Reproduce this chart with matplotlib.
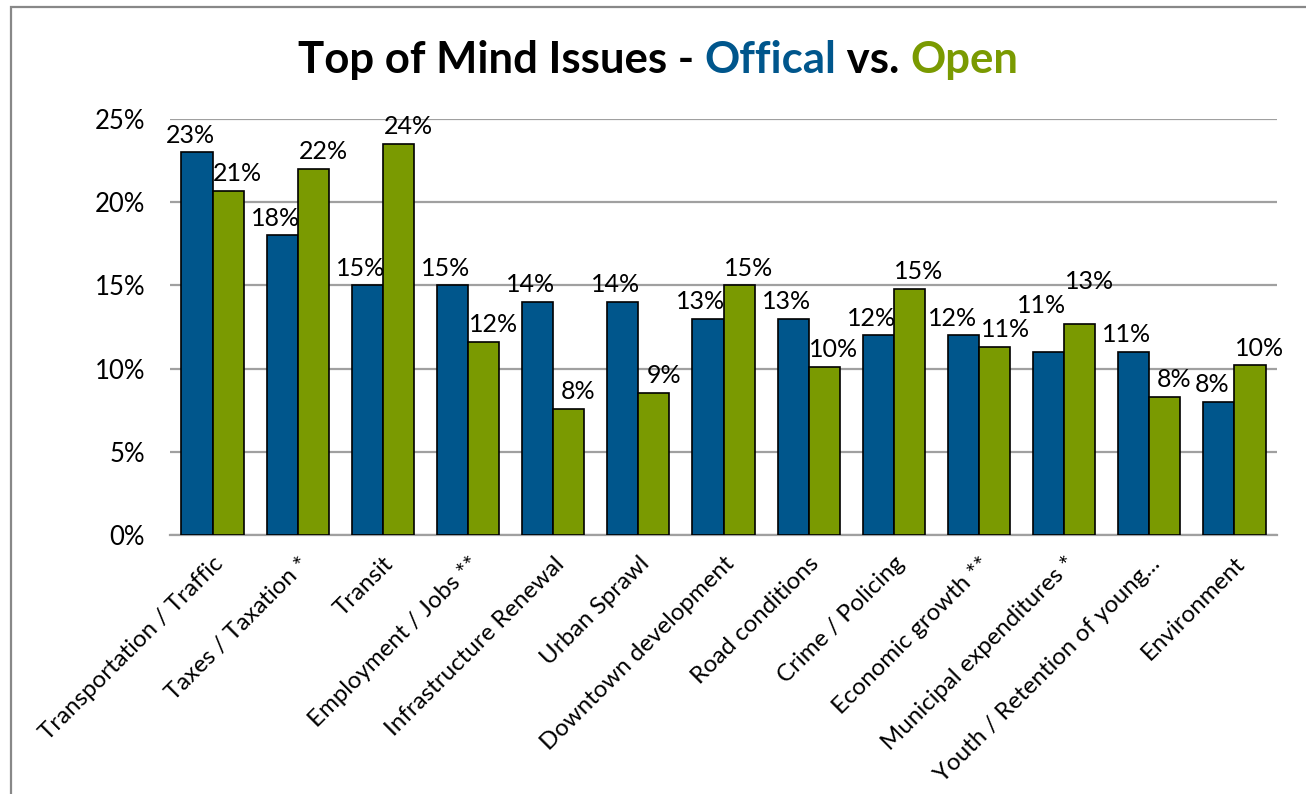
import numpy as np
import matplotlib
matplotlib.use("Agg")
import matplotlib.pyplot as plt
from matplotlib.patches import Rectangle

plt.rcParams['font.family'] = ['Lato', 'DejaVu Sans']

# data
categories = ['Transportation / Traffic', 'Taxes / Taxation *', 'Transit',
              'Employment / Jobs **', 'Infrastructure Renewal', 'Urban Sprawl',
              'Downtown development', 'Road conditions', 'Crime / Policing',
              'Economic growth **', 'Municipal expenditures *',
              'Youth / Retention of young...', 'Environment']
official = [23.0, 18.0, 15.0, 15.0, 14.0, 14.0, 13.0, 13.0, 12.0, 12.0, 11.0, 11.0, 8.0]
open_ = [20.7, 22.0, 23.5, 11.6, 7.6, 8.55, 15.0, 10.1, 14.8, 11.3, 12.7, 8.3, 10.2]
yticks = [0, 5, 10, 15, 20, 25]

BLUE = '#00568C'
GREEN = '#7A9A01'
GRID = '#A0A0A0'

W, H = 1306, 794
fig = plt.figure(figsize=(W / 100, H / 100), dpi=100)
ax = fig.add_axes([170 / W, 1 - 535 / H, (1277 - 170) / W, (535 - 119) / H])

x = np.arange(len(categories))
bw = 0.365
b1 = ax.bar(x - bw / 2, official, bw, color=BLUE, edgecolor='black', linewidth=1.2, zorder=3)
b2 = ax.bar(x + bw / 2, open_, bw, color=GREEN, edgecolor='black', linewidth=1.2, zorder=3)

ax.set_xlim(-0.5, len(categories) - 0.5)
ax.set_ylim(0, 25)
ax.set_yticks(yticks)
ax.set_yticklabels([f"{t}%" for t in yticks], fontsize=18.5)
ax.yaxis.grid(True, color=GRID, linewidth=1.6, zorder=0)
ax.set_axisbelow(True)
for s in ('left', 'right', 'top'):
    ax.spines[s].set_visible(False)
ax.spines['bottom'].set_color(GRID)
ax.spines['bottom'].set_linewidth(1.6)
ax.tick_params(axis='y', length=0, pad=18)
ax.tick_params(axis='x', length=0, pad=13)
ax.set_xticks(x)
ax.set_xticklabels(categories, rotation=45, ha='right', rotation_mode='anchor', fontsize=17.3)

# labels nudged apart a little (more when the two bars are close), like the excel ones
labels = []
for i in range(len(categories)):
    close = abs(official[i] - open_[i]) < 1.3
    for r, v, dx in ((b1[i], official[i], -8 if close else -5),
                     (b2[i], open_[i], 8 if close else 7)):
        a = ax.annotate(f"{int(v + 0.5)}%", (r.get_x() + r.get_width() / 2, v),
                        xytext=(dx, 4), textcoords='offset points',
                        ha='center', va='bottom', fontsize=18, zorder=4)
        labels.append(a)

# lift a label if it runs into the one before it
renderer = fig.canvas.get_renderer()
for k in range(1, len(labels)):
    prev = labels[k - 1].get_window_extent(renderer)
    cur = labels[k].get_window_extent(renderer)
    if cur.x0 < prev.x1 - 1 and cur.y0 < prev.y1 and cur.y1 > prev.y0:
        lift = (prev.y1 - cur.y0 + 1) * 72 / fig.dpi
        dx, dy = labels[k].xyann
        labels[k].xyann = (dx, dy + lift)

# outer frame
fig.patches.append(Rectangle((11 / W, -0.1), 1.2, 1.1 - 7 / H, transform=fig.transFigure,
                             fill=False, edgecolor='#888888', linewidth=1.6))

# multi-coloured title
parts = [("Top of Mind Issues - ", 'black'), ("Offical", BLUE), (" vs. ", 'black'), ("Open", GREEN)]
texts = []
for s, c in parts:
    t = fig.text(0, 1 - 60 / H, s, color=c, fontsize=31.5, fontweight='bold', va='center', ha='left')
    texts.append(t)
widths = [t.get_window_extent(renderer).width for t in texts]
xpos = 658 - sum(widths) / 2
for t, w in zip(texts, widths):
    t.set_x(xpos / W)
    xpos += w

fig.savefig('out.png', dpi=100)
